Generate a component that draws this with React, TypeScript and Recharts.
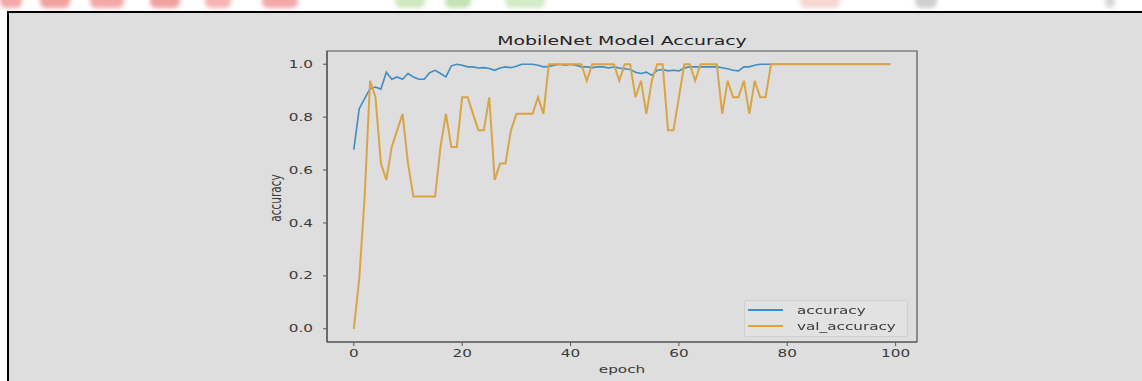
import React from "react";
import { LineChart, Line, XAxis, YAxis, ReferenceArea } from "recharts";

const accuracy = [
  0.677, 0.832, 0.87, 0.908, 0.914, 0.906, 0.97, 0.943, 0.952, 0.943,
  0.965, 0.952, 0.943, 0.943, 0.968, 0.977, 0.965, 0.952, 0.994, 1.0,
  0.996, 0.99, 0.99, 0.986, 0.987, 0.984, 0.977, 0.986, 0.99, 0.987,
  0.992, 1.0, 1.0, 1.0, 0.996, 0.99, 0.992, 0.996, 1.0, 0.996,
  1.0, 0.996, 0.99, 0.99, 0.987, 0.99, 0.99, 0.986, 0.99, 0.986,
  0.983, 0.98, 0.97, 0.965, 0.97, 0.958, 0.977, 0.98, 0.975, 0.977,
  0.975, 0.986, 0.99, 0.99, 0.99, 0.99, 0.99, 0.99, 0.987, 0.983,
  0.977, 0.975, 0.99, 0.99, 0.996, 1.0, 1.0, 1.0, 1.0, 1.0,
  1.0, 1.0, 1.0, 1.0, 1.0, 1.0, 1.0, 1.0, 1.0, 1.0,
  1.0, 1.0, 1.0, 1.0, 1.0, 1.0, 1.0, 1.0, 1.0, 1.0,
];

const valAccuracy = [
  0.0, 0.1875, 0.5, 0.9375, 0.875, 0.625, 0.5625, 0.6875, 0.75, 0.8125,
  0.625, 0.5, 0.5, 0.5, 0.5, 0.5, 0.6875, 0.8125, 0.6875, 0.6875,
  0.875, 0.875, 0.8125, 0.75, 0.75, 0.875, 0.5625, 0.625, 0.625, 0.75,
  0.8125, 0.8125, 0.8125, 0.8125, 0.875, 0.8125, 1.0, 1.0, 1.0, 1.0,
  1.0, 1.0, 1.0, 0.9375, 1.0, 1.0, 1.0, 1.0, 1.0, 0.9375,
  1.0, 1.0, 0.875, 0.9375, 0.8125, 0.9375, 1.0, 1.0, 0.75, 0.75,
  0.875, 1.0, 1.0, 0.9375, 1.0, 1.0, 1.0, 1.0, 0.8125, 0.9375,
  0.875, 0.875, 0.9375, 0.8125, 0.9375, 0.875, 0.875, 1.0, 1.0, 1.0,
  1.0, 1.0, 1.0, 1.0, 1.0, 1.0, 1.0, 1.0, 1.0, 1.0,
  1.0, 1.0, 1.0, 1.0, 1.0, 1.0, 1.0, 1.0, 1.0, 1.0,
];

const epochs = accuracy.map((_, i) => i);
const xTicks = [0, 20, 40, 60, 80, 100];
const yTicks = [0.0, 0.2, 0.4, 0.6, 0.8, 1.0];
const title = "MobileNet Model Accuracy";
const xLabel = "epoch";
const yLabel = "accuracy";
const seriesNames = ["accuracy", "val_accuracy"];

const data = epochs.map((e, i) => ({
  epoch: e,
  accuracy: accuracy[i],
  val_accuracy: valAccuracy[i],
}));

const BLUE = "#3f8dc2";
const ORANGE = "#d9a446";
const AXIS = "#555555";
const TEXT = "#3a3a3a";
const FONT = "'DejaVu Sans', sans-serif";
const SX = 1.45;

const XTick = (props: any) => {
  const { x, y, payload } = props;
  return (
    <g transform={`translate(${x},${y + 5})`}>
      <text
        transform={`scale(${SX},1)`}
        textAnchor="middle"
        dominantBaseline="central"
        fontSize={10.5}
        fontFamily={FONT}
        fill={TEXT}
      >
        {payload.value}
      </text>
    </g>
  );
};

const YTick = (props: any) => {
  const { x, y, payload } = props;
  return (
    <g transform={`translate(${x - 8},${y})`}>
      <text
        transform={`scale(${SX},1)`}
        textAnchor="end"
        dominantBaseline="central"
        fontSize={10.5}
        fontFamily={FONT}
        fill={TEXT}
      >
        {Number(payload.value).toFixed(1)}
      </text>
    </g>
  );
};

const LegendBox = () => {
  const colors = [BLUE, ORANGE];
  return (
    <div
      style={{
        position: "absolute",
        left: 744,
        top: 300,
        width: 164,
        height: 37,
        boxSizing: "border-box",
        border: "1px solid #d0d0d0",
        background: "#e2e2e2",
        borderRadius: 2,
        paddingTop: 1,
      }}
    >
      {seriesNames.map((n, i) => (
        <div key={n} style={{ display: "flex", alignItems: "center", height: 16 }}>
          <div style={{ width: 35, height: 2, background: colors[i], marginLeft: 3 }} />
          <div
            style={{
              marginLeft: 14,
              fontSize: 10.5,
              fontFamily: FONT,
              color: TEXT,
              transform: `scaleX(${SX})`,
              transformOrigin: "left center",
              whiteSpace: "nowrap",
              lineHeight: "16px",
            }}
          >
            {n}
          </div>
        </div>
      ))}
    </div>
  );
};

const blob = (left: number, width: number, color: string) => (
  <div
    style={{
      position: "absolute",
      left,
      top: -14,
      width,
      height: 22,
      background: color,
      borderRadius: 6,
      filter: "blur(2px)",
    }}
  />
);

export default function App() {
  return (
    <div style={{ position: "absolute", left: 0, top: 0, width: 1142, height: 381, background: "#ffffff", overflow: "hidden" }}>
      {/* faint watermark remnants above the frame (shapes only) */}
      <div style={{ position: "absolute", left: 0, top: 0, width: 1142, height: 11, overflow: "hidden" }}>
        {blob(0, 22, "#f4a8a8")}
        {blob(40, 30, "#f2a0a0")}
        {blob(90, 34, "#f4a8a8")}
        {blob(150, 30, "#f2a0a0")}
        {blob(205, 26, "#f6b4b4")}
        {blob(262, 36, "#f4a8a8")}
        {blob(395, 30, "#cfe8bf")}
        {blob(445, 26, "#c4e3b2")}
        {blob(505, 40, "#d3eac6")}
        {blob(800, 40, "#f6d6d0")}
        {blob(915, 22, "#cfcfcf")}
        {blob(1105, 10, "#d8d8d8")}
      </div>
      <div
        style={{
          position: "absolute",
          left: 7,
          top: 11,
          width: 1140,
          height: 380,
          background: "#dedede",
          borderLeft: "2px solid #000",
          borderTop: "2px solid #000",
        }}
      />
      <div style={{ position: "absolute", left: 0, top: 0 }}>
        <LineChart
          width={1142}
          height={381}
          data={data}
          margin={{ top: 51, right: 225, bottom: 9, left: 267 }}
        >
          <XAxis
            dataKey="epoch"
            type="number"
            domain={[-4.95, 103.95]}
            ticks={xTicks}
            allowDataOverflow
            height={30}
            axisLine={{ stroke: AXIS, strokeWidth: 1.2 }}
            tickLine={{ stroke: AXIS }}
            tickSize={4}
            tick={<XTick />}
          />
          <YAxis
            type="number"
            domain={[-0.05, 1.05]}
            ticks={yTicks}
            allowDataOverflow
            width={60}
            axisLine={{ stroke: AXIS, strokeWidth: 1.2 }}
            tickLine={{ stroke: AXIS }}
            tickSize={4}
            tick={<YTick />}
          />
          <ReferenceArea
            x1={-4.95}
            x2={103.95}
            y1={-0.05}
            y2={1.05}
            fill="none"
            stroke={AXIS}
            strokeWidth={1.2}
            ifOverflow="visible"
          />
          <Line
            type="linear"
            dataKey="accuracy"
            stroke={BLUE}
            strokeWidth={1.6}
            dot={false}
            isAnimationActive={false}
          />
          <Line
            type="linear"
            dataKey="val_accuracy"
            stroke={ORANGE}
            strokeWidth={2}
            dot={false}
            isAnimationActive={false}
          />
        </LineChart>
      </div>
      <LegendBox />
      <div
        style={{
          position: "absolute",
          left: 622,
          top: 40,
          transform: `translate(-50%,-50%) scaleX(${SX})`,
          fontSize: 13,
          fontFamily: FONT,
          color: "#222",
          whiteSpace: "nowrap",
        }}
      >
        {title}
      </div>
      <div
        style={{
          position: "absolute",
          left: 622,
          top: 369,
          transform: `translate(-50%,-50%) scaleX(${SX})`,
          fontSize: 10.5,
          fontFamily: FONT,
          color: TEXT,
          whiteSpace: "nowrap",
        }}
      >
        {xLabel}
      </div>
      <div
        style={{
          position: "absolute",
          left: 275,
          top: 198,
          transform: `translate(-50%,-50%) rotate(-90deg) scaleY(${SX})`,
          fontSize: 10.5,
          fontFamily: FONT,
          color: TEXT,
          whiteSpace: "nowrap",
        }}
      >
        {yLabel}
      </div>
    </div>
  );
}
